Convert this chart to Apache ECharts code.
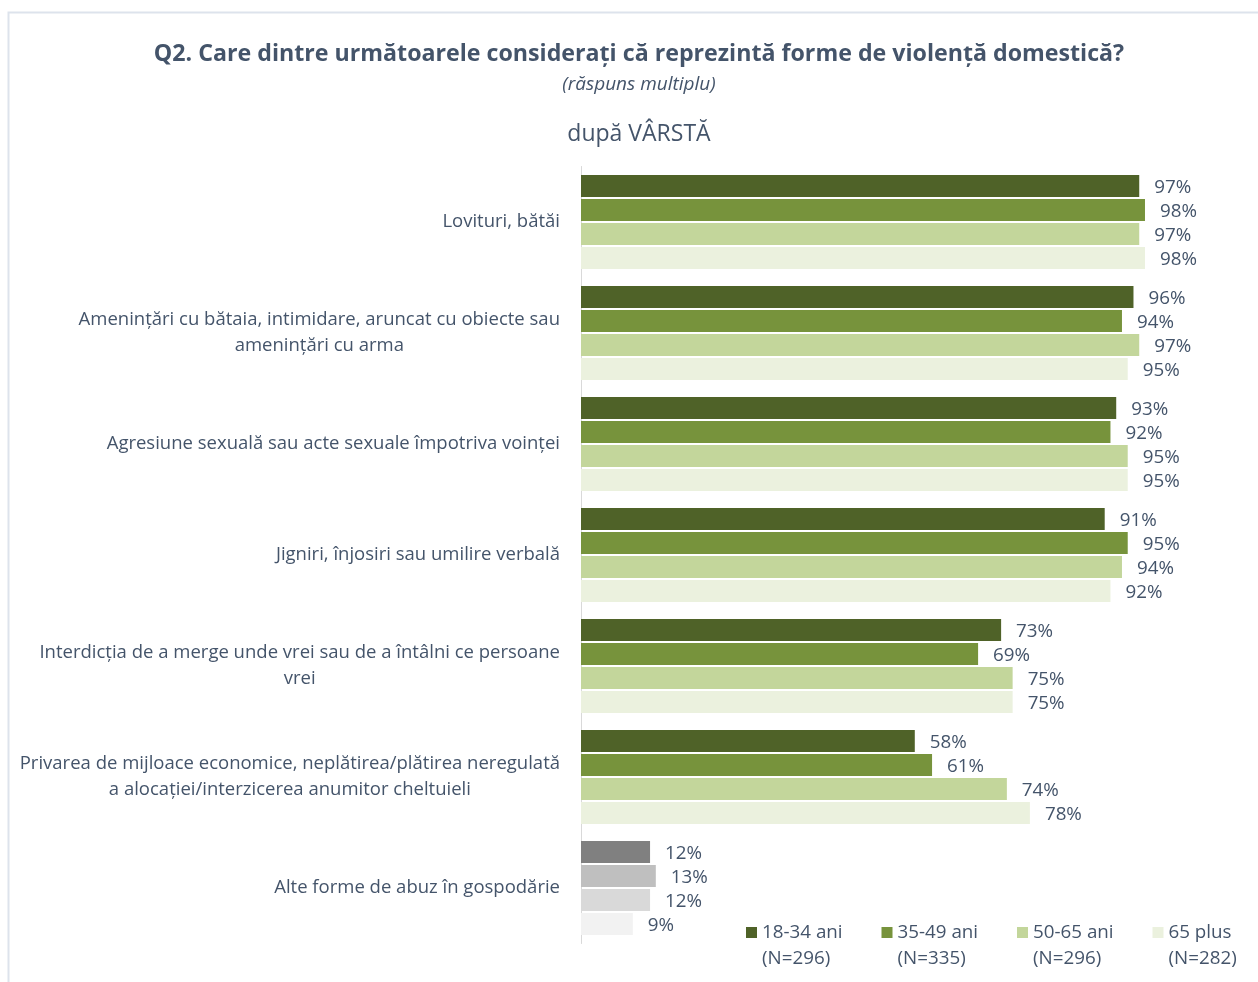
<!DOCTYPE html>
<html>
<head>
<meta charset="utf-8">
<script src="https://cdn.jsdelivr.net/npm/echarts@6/dist/echarts.min.js"></script>
<style>
html,body{margin:0;padding:0;background:#fff;}
#c{width:1258px;height:982px;}
</style>
</head>
<body>
<div id="c"></div>
<script>
var categories = [
  "Lovituri, bătăi",
  "Amenințări cu bătaia, intimidare, aruncat cu obiecte sau\namenințări cu arma",
  "Agresiune sexuală sau acte sexuale împotriva voinței",
  "Jigniri, înjosiri sau umilire verbală",
  "Interdicția de a merge unde vrei sau de a întâlni ce persoane\nvrei",
  "Privarea de mijloace economice, neplătirea/plătirea neregulată\na alocației/interzicerea anumitor cheltuieli",
  "Alte forme de abuz în gospodărie"
];
var seriesNames = ["18-34 ani", "35-49 ani", "50-65 ani", "65 plus"];
var seriesN = ["(N=296)", "(N=335)", "(N=296)", "(N=282)"];
var v1834 = [97, 96, 93, 91, 73, 58, 12];
var v3549 = [98, 94, 92, 95, 69, 61, 13];
var v5065 = [97, 97, 95, 94, 75, 74, 12];
var v65 = [98, 95, 95, 92, 75, 78, 9];
var greens = ["#4F6228", "#77933C", "#C3D69B", "#EBF1DE"];
var greys = ["#808080", "#BFBFBF", "#D9D9D9", "#F2F2F2"];
var greyIndex = 6;

var TXT = "#44546A";
var FONT = "Open Sans";
var allVals = [v1834, v3549, v5065, v65];

var series = allVals.map(function (vals, si) {
  return {
    name: seriesNames[si],
    type: "bar",
    barWidth: 22,
    barGap: "9%",
    itemStyle: { color: greens[si] },
    label: {
      show: true, position: "right", distance: 15, offset: [0, 1.5],
      formatter: "{c}%", color: TXT, fontFamily: FONT, fontSize: 18.8
    },
    data: vals.map(function (v, i) {
      return i === greyIndex ? { value: v, itemStyle: { color: greys[si] } } : v;
    })
  };
});

var chart = echarts.init(document.getElementById("c"), null, { renderer: "canvas" });
chart.setOption({
  animation: false,
  backgroundColor: "#fff",
  textStyle: { fontFamily: FONT },
  title: [
    { text: "Q2. Care dintre următoarele considerați că reprezintă forme de violență domestică?",
      left: 634, textAlign: "center", top: 38,
      textStyle: { color: TXT, fontFamily: FONT, fontWeight: "bold", fontSize: 23.2 } },
    { text: "(răspuns multiplu)", left: 634, textAlign: "center", top: 70,
      textStyle: { color: TXT, fontFamily: FONT, fontStyle: "italic", fontWeight: "normal", fontSize: 19 } },
    { text: "după VÂRSTĂ", left: 634, textAlign: "center", top: 118,
      textStyle: { color: TXT, fontFamily: FONT, fontWeight: "normal", fontSize: 23 } }
  ],
  graphic: [{
    type: "rect", left: 6, top: 10, silent: true,
    shape: { x: 0, y: 0, width: 1300, height: 1000 },
    style: { fill: null, stroke: "#DDE3EC", lineWidth: 2 }
  }],
  legend: {
    left: 746, top: 919.5, padding: 0, itemWidth: 11, itemHeight: 37, itemGap: 37.5,
    icon: "path://M0,0L11,0L11,11L0,11Z M0,37L0.001,37L0,37Z",
    data: seriesNames,
    formatter: function (name) {
      return name + "\n" + seriesN[seriesNames.indexOf(name)];
    },
    textStyle: { color: TXT, fontFamily: FONT, fontSize: 18.8, lineHeight: 26, width: 82 }
  },
  grid: { left: 581, right: 101.5, top: 166.5, bottom: 38.5, containLabel: false },
  xAxis: { type: "value", min: 0, max: 100, show: false, splitLine: { show: false } },
  yAxis: {
    type: "category", inverse: true, data: categories,
    axisLine: { show: true, lineStyle: { color: "#D9D9D9", width: 1 } },
    axisTick: { show: false },
    axisLabel: {
      margin: 21, color: TXT, fontFamily: FONT, fontSize: 18.5, lineHeight: 26,
      formatter: function (v) {
        return v.split("\n").map(function (l) { return "{c|" + l + "}"; }).join("\n");
      },
      rich: { c: { align: "center", color: TXT, fontFamily: FONT, fontSize: 18.5, lineHeight: 26 } }
    }
  },
  series: series
});
</script>
</body>
</html>
